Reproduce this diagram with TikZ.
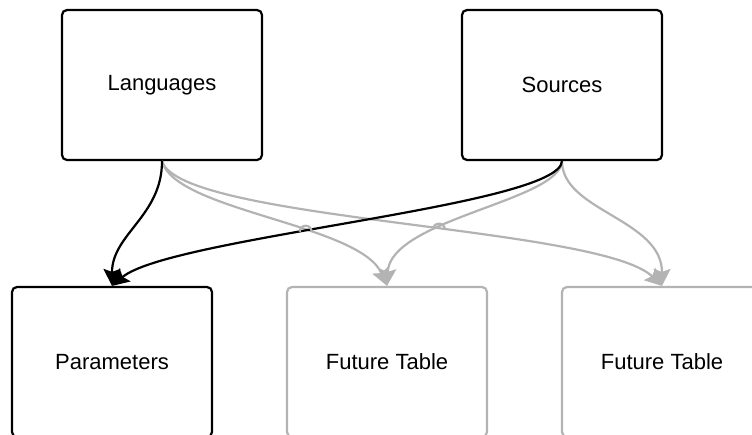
\documentclass[tikz,border=0pt]{standalone}
\usepackage{fontspec}
\setmainfont{Liberation Sans}
\usepackage{tikz}
\usetikzlibrary{arrows.meta,intersections}
\definecolor{edgegray}{HTML}{B3B3B3}

\begin{document}
\begin{tikzpicture}[x=1pt,y=-1pt,
  table/.style={draw, line width=2.2pt, rounded corners=5pt, minimum width=200pt,
    minimum height=150pt, fill=white, font=\fontsize{22}{26}\selectfont},
  future/.style={table, draw=edgegray},
  link/.style={line width=2.2pt, -{Stealth[length=17pt,width=17pt,inset=3pt]}},
  faded/.style={link, draw=edgegray},
  jumpline/.style={line width=2.2pt, draw=edgegray}]

\useasboundingbox (0,0) rectangle (752,434);

\node [table] (lang) at (162,85) {Languages};
\node [table] (src) at (562,85) {Sources};

\node [table] (par) at (112,362) {Parameters};
\node [future] (fut1) at (387,362) {Future Table};
\node [future] (fut2) at (662,362) {Future Table};

%\draw [color=black!30] (0,287) -- (752,287);

\draw [faded, name path=langfut2] (lang.south) .. controls +(18,60) and +(-62,-60) .. (fut2.north);
\draw [faded, name path=langfut1] (lang.south) .. controls +(13,50) and +(-27,-62) .. (fut1.north);
\draw [faded, name path=srcfut1] (src.south) .. controls +(-2,40) and +(3,-67) .. (fut1.north);
\draw [faded] (src.south) .. controls +(0,50) and +(0,-67) .. (fut2.north);

\draw [link] (lang.south) .. controls +(0,55) and +(0,-52) .. (par.north);
\draw [link, name path=srcpar] (src.south) .. controls +(-2,45) and +(58,-49) .. (par.north);

% line jumps
\path [name intersections={of=langfut1 and srcpar, by=jumpa}];
\path [name intersections={of=srcfut1 and langfut2, by=jumpb}];
\draw [jumpline] (jumpa) ++(-6,0) arc (180:360:6);
\draw [jumpline] (jumpb) ++(-6,0) arc (180:360:6);

\end{tikzpicture}
\end{document}
